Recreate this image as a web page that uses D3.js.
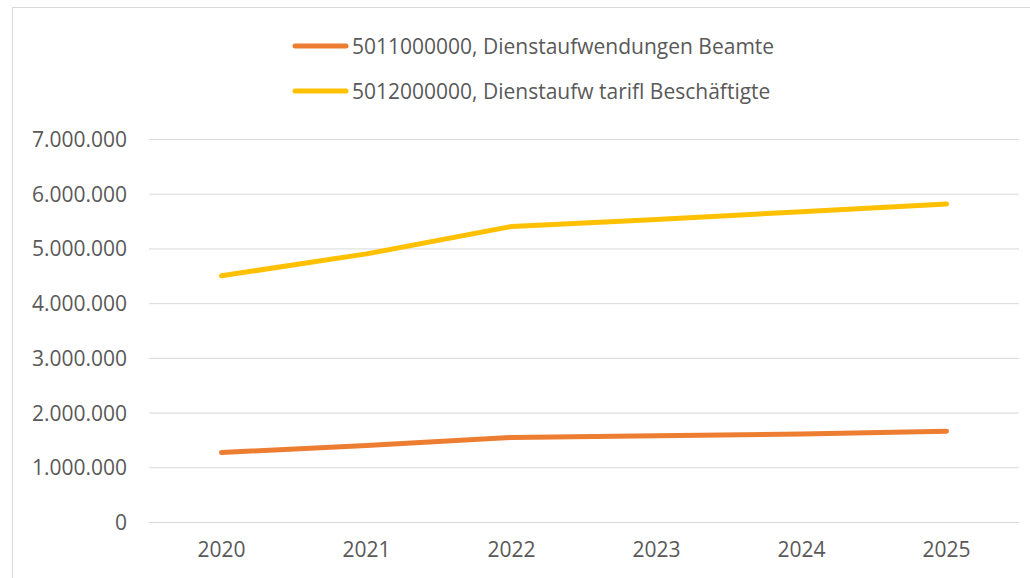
<!DOCTYPE html>
<html lang="de">
<head>
<meta charset="utf-8">
<title>Dienstaufwendungen 2020–2025</title>
<script src="https://cdn.jsdelivr.net/npm/d3@7"></script>
<style>
  html, body { margin: 0; padding: 0; background: #fff; }
  #chart { width: 1030px; height: 578px; }
</style>
</head>
<body>
<div id="chart"></div>
<script>
// --- Data ---
var years = ['2020', '2021', '2022', '2023', '2024', '2025'];
var seriesNames = [
  '5011000000, Dienstaufwendungen Beamte',
  '5012000000, Dienstaufw tarifl Beschäftigte'
];
var beamte = [1270000, 1400000, 1545000, 1575000, 1610000, 1660000];
var tarifl = [4500000, 4900000, 5400000, 5530000, 5670000, 5810000];
var yTicks = [0, 1000000, 2000000, 3000000, 4000000, 5000000, 6000000, 7000000];

(function () {
  'use strict';

  var width = 1030, height = 578;
  var margin = { top: 139, right: 11, bottom: 56, left: 149 };

  var c = {
    orange: '#ED7D31',
    yellow: '#FFC000',
    grid:   '#D9D9D9',
    text:   '#595959'
  };
  var font = '"Open Sans", "Liberation Sans", sans-serif';

  var de = d3.formatLocale({ decimal: ',', thousands: '.', grouping: [3], currency: ['', ' €'] });
  var fmt = de.format(',d');

  var svg = d3.select('#chart')
    .append('svg')
    .attr('width', width)
    .attr('height', height)
    .attr('viewBox', '0 0 ' + width + ' ' + height);

  // chart area border (runs off the right and bottom edge like the reference)
  svg.append('rect')
    .attr('x', 12.5)
    .attr('y', 7.5)
    .attr('width', width + 20)
    .attr('height', height + 20)
    .attr('fill', 'none')
    .attr('stroke', c.grid)
    .attr('stroke-width', 1);

  var x = d3.scaleBand()
    .domain(years)
    .range([margin.left, width - margin.right])
    .padding(0);

  var y = d3.scaleLinear()
    .domain([0, 7000000])
    .range([height - margin.bottom, margin.top]);

  // --- Gridlines + y labels ---
  var yAxis = d3.axisLeft(y)
    .tickValues(yTicks)
    .tickFormat(fmt)
    .tickSize(-(width - margin.left - margin.right))
    .tickPadding(22);

  var gy = svg.append('g')
    .attr('transform', 'translate(' + margin.left + ',0)')
    .call(yAxis);
  gy.select('.domain').remove();
  gy.selectAll('.tick line')
    .attr('stroke', c.grid)
    .attr('stroke-width', 1);
  gy.selectAll('.tick text')
    .attr('fill', c.text)
    .attr('font-family', font)
    .attr('font-size', '21px')
    .attr('dy', '0.36em');

  // --- x labels ---
  var xAxis = d3.axisBottom(x).tickSize(0).tickPadding(20);
  var gx = svg.append('g')
    .attr('transform', 'translate(0,' + (height - margin.bottom) + ')')
    .call(xAxis);
  gx.select('.domain').remove();
  gx.selectAll('.tick text')
    .attr('fill', c.text)
    .attr('font-family', font)
    .attr('font-size', '21px');

  // --- Lines ---
  var line = d3.line()
    .x(function (d, i) { return x(years[i]) + x.bandwidth() / 2; })
    .y(function (d) { return y(d); });

  var series = [
    { name: seriesNames[0], values: beamte, color: c.orange },
    { name: seriesNames[1], values: tarifl, color: c.yellow }
  ];

  svg.append('g')
    .attr('fill', 'none')
    .selectAll('path')
    .data(series)
    .join('path')
    .attr('d', function (d) { return line(d.values); })
    .attr('stroke', function (d) { return d.color; })
    .attr('stroke-width', 5)
    .attr('stroke-linecap', 'round')
    .attr('stroke-linejoin', 'round');

  // --- Legend ---
  var legend = svg.append('g')
    .selectAll('g')
    .data(series)
    .join('g')
    .attr('transform', function (d, i) { return 'translate(295,' + (46 + i * 45) + ')'; });

  legend.append('line')
    .attr('x1', 0)
    .attr('x2', 51)
    .attr('stroke', function (d) { return d.color; })
    .attr('stroke-width', 5)
    .attr('stroke-linecap', 'round');

  legend.append('text')
    .attr('x', 57)
    .attr('dy', '0.36em')
    .attr('fill', c.text)
    .attr('font-family', font)
    .attr('font-size', '21px')
    .text(function (d) { return d.name; });
})();
</script>
</body>
</html>
